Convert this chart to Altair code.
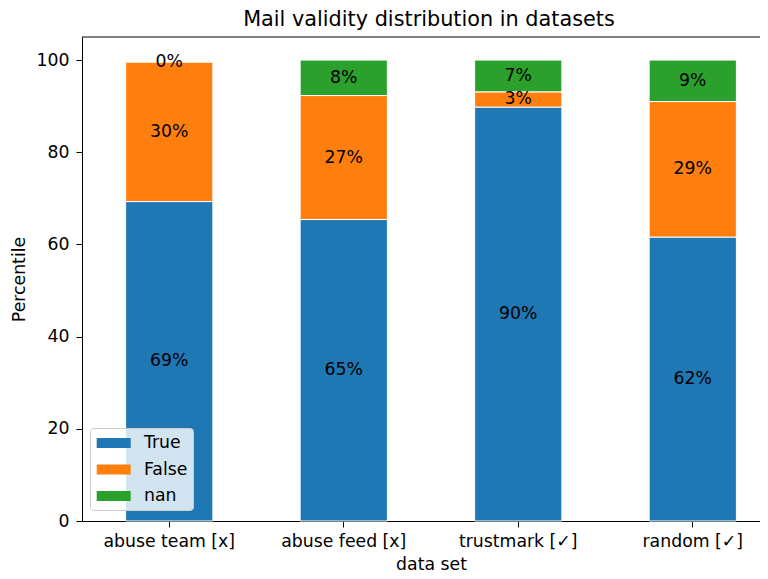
import altair as alt
import pandas as pd

# ---- data ----
datasets = ["abuse team [x]", "abuse feed [x]", "trustmark [✓]", "random [✓]"]
categories = ["True", "False", "nan"]
colors = ["#1f77b4", "#ff7f0e", "#2ca02c"]
true_pct = [69.3, 65.4, 89.8, 61.6]
false_pct = [30.3, 26.9, 3.3, 29.4]
nan_pct = [0.0, 7.7, 6.9, 9.0]
y_ticks = [0, 20, 40, 60, 80, 100]
y_max = [105]

rows = []
for i, ds in enumerate(datasets):
    cum = 0.0
    for k, (cat, vals) in enumerate(zip(categories, [true_pct, false_pct, nan_pct])):
        v = vals[i]
        rows.append(dict(dataset=ds, category=cat, order=k, value=v,
                         y0=cum, y1=cum + v, mid=cum + v / 2))
        cum += v
df = pd.DataFrame(rows)

FONT = "DejaVu Sans"
FS = 17.3

x_enc = alt.X(
    "dataset:N",
    sort=datasets,
    scale=alt.Scale(range=[0, 698], paddingInner=0.5, paddingOuter=0.25),
    axis=alt.Axis(title="data set", labelAngle=0, labelPadding=5, titlePadding=6),
)
y_scale = alt.Scale(domain=[0, y_max[0]], nice=False, zero=True)
y_axis = alt.Axis(title="Percentile", values=y_ticks, labelPadding=7, titlePadding=8)

base = alt.Chart(df)

bars = base.mark_bar(stroke="white", strokeWidth=1).encode(
    x=x_enc,
    y=alt.Y("y0:Q", scale=y_scale, axis=y_axis),
    y2="y1:Q",
    color=alt.Color(
        "category:N",
        scale=alt.Scale(domain=categories, range=colors),
        title=None,
        legend=alt.Legend(
            orient="none", legendX=8, legendY=391, padding=5,
            fillColor="rgba(255,255,255,0.8)", strokeColor="#cccccc",
            cornerRadius=3,
            symbolType="M-0.83,-0.5H2.57V0.5H-0.83Z", symbolSize=400,
            symbolStrokeWidth=0, labelOffset=29, rowPadding=7.5,
            labelFontSize=FS, labelColor="black", labelFont=FONT,
        ),
    ),
    order=alt.Order("order:Q"),
)

labels = base.transform_calculate(
    label="format(datum.value, '.0f') + '%'"
).mark_text(fontSize=FS, color="black", align="center", baseline="middle", font=FONT).encode(
    x=x_enc,
    y=alt.Y("mid:Q", scale=y_scale, axis=y_axis),
    text="label:N",
)

# top spine (the right spine of the reference lies outside the picture)
top_spine = alt.Chart(pd.DataFrame({"edge": y_max})).mark_rule(
    color="black", strokeWidth=1
).encode(y=alt.Y("edge:Q", scale=y_scale, axis=y_axis))

chart = alt.layer(bars, labels, top_spine).properties(
    width=678,
    height=484,
    autosize="none",
    padding={"left": 74, "top": 29, "right": 0, "bottom": 56},
    title=alt.TitleParams(
        "Mail validity distribution in datasets",
        fontSize=20.8, fontWeight="normal", font=FONT, color="black",
        offset=6, dx=8,
    ),
).configure(font=FONT).configure_view(
    strokeWidth=0
).configure_axis(
    grid=False, domainColor="black", domainWidth=1, tickColor="black",
    tickSize=6, labelColor="black", titleColor="black",
    labelFontSize=FS, titleFontSize=FS, titleFontWeight="normal",
    labelFont=FONT, titleFont=FONT,
)

chart.save("out.html", embed_options={"renderer": "svg", "actions": False})
